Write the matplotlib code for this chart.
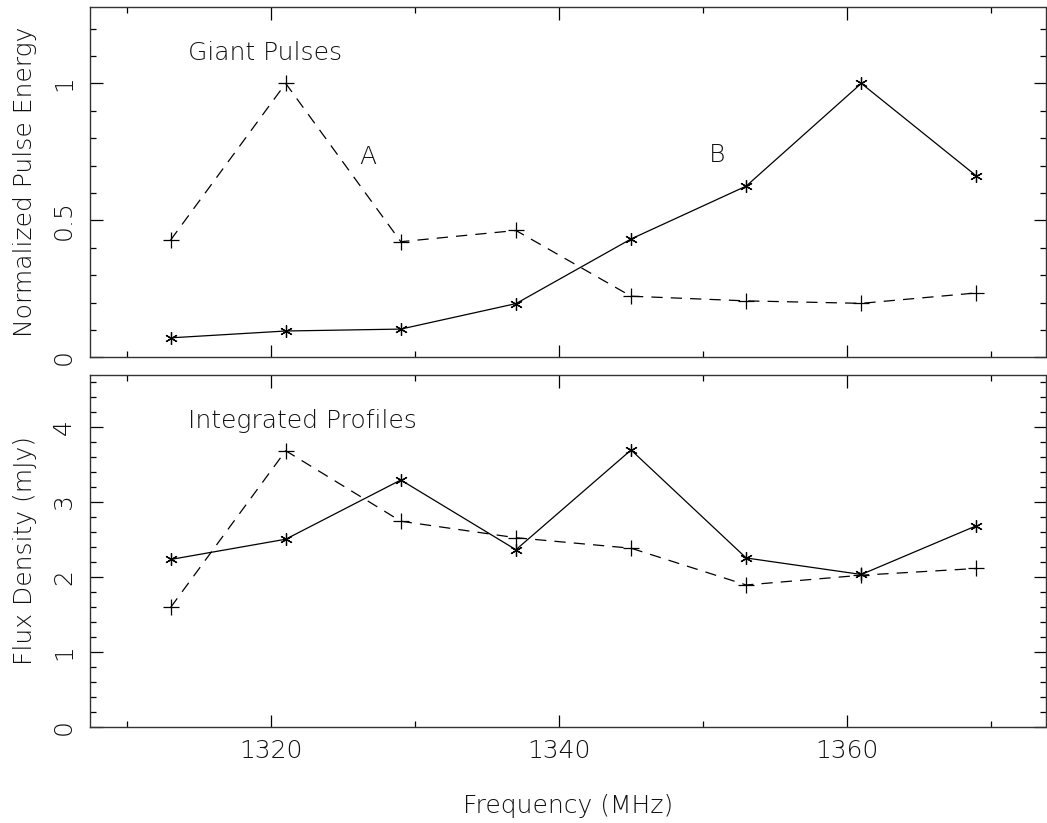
import numpy as np
import matplotlib
matplotlib.use("Agg")
import matplotlib.pyplot as plt
from matplotlib import font_manager
from matplotlib.ticker import MultipleLocator

# Observing frequencies (MHz)
freq = [1313, 1321, 1329, 1337, 1345, 1353, 1361, 1369]

# Normalized giant-pulse energy for the two components
gp_A = [0.428, 1.0, 0.422, 0.463, 0.223, 0.206, 0.197, 0.235]
gp_B = [0.071, 0.096, 0.103, 0.196, 0.432, 0.625, 1.0, 0.662]

# Integrated-profile flux density (mJy)
prof_A = [1.59, 3.68, 2.74, 2.52, 2.38, 1.89, 2.02, 2.11]
prof_B = [2.23, 2.50, 3.29, 2.36, 3.69, 2.25, 2.03, 2.68]

panel_titles = ["Giant Pulses", "Integrated Profiles"]
ylabels = ["Normalized Pulse Energy", "Flux Density (mJy)"]
xlabel = "Frequency (MHz)"


def pick_light_font():
    """Return (family, weight) for a thin-stroked sans face, if one is installed."""
    prefs = ["DejaVu Sans", "Open Sans", "Lato", "Roboto", "Inter", "Noto Sans"]
    entries = font_manager.fontManager.ttflist
    for fam in prefs:
        for f in entries:
            if f.name == fam and f.style == "normal":
                w = f.weight if isinstance(f.weight, int) else 400
                if w <= 300:
                    return fam, w
    return "DejaVu Sans", "normal"


FAMILY, WEIGHT = pick_light_font()
plt.rcParams["font.family"] = [FAMILY, "DejaVu Sans"]
plt.rcParams["font.weight"] = WEIGHT
plt.rcParams["axes.labelweight"] = WEIGHT
FS = 18
TXT = "#111111"

fig = plt.figure(figsize=(10.47, 8.23), dpi=100)
ax1 = fig.add_axes([90 / 1047, 1 - 357.3 / 823, 955.5 / 1047, 350.6 / 823])
ax2 = fig.add_axes([90 / 1047, 1 - 726.7 / 823, 955.5 / 1047, 351.7 / 823],
                   sharex=ax1)

LW = 0.9
DASH = (9, 6.5)
aster = (6, 2, 0)


def draw(ax, ya, yb):
    ax.plot(freq, ya, color="black", lw=LW, linestyle=(0, DASH),
            marker="+", ms=12, mew=LW)
    ax.plot(freq, yb, color="black", lw=LW, linestyle="-",
            marker=aster, ms=9, mew=LW)


draw(ax1, gp_A, gp_B)
draw(ax2, prof_A, prof_B)

ax1.set_xlim(1307.4, 1373.8)
ax1.set_ylim(0, 1.28)
ax2.set_ylim(0, 4.69)

ax1.xaxis.set_major_locator(MultipleLocator(20))
ax1.xaxis.set_minor_locator(MultipleLocator(10))
ax1.yaxis.set_major_locator(MultipleLocator(0.5))
ax1.yaxis.set_minor_locator(MultipleLocator(0.1))
ax2.yaxis.set_major_locator(MultipleLocator(1))
ax2.yaxis.set_minor_locator(MultipleLocator(0.2))


def yfmt(v, _):
    return "%g" % v


for ax in (ax1, ax2):
    for s in ax.spines.values():
        s.set_linewidth(1.0)
        s.set_color("#333333")
    ax.tick_params(which="both", direction="in", top=True, right=True,
                   width=0.9, labelsize=FS, colors="black", labelcolor=TXT)
    ax.tick_params(which="major", length=9)
    ax.tick_params(which="minor", length=4.5)
    ax.tick_params(axis="y", labelrotation=90, pad=10)
    ax.tick_params(axis="x", pad=9)
    ax.yaxis.set_major_formatter(plt.FuncFormatter(yfmt))
    for lab in ax.get_yticklabels():
        lab.set_va("center")

ax1.tick_params(axis="x", labelbottom=False)

lab_kw = dict(fontsize=FS, fontweight=WEIGHT, color=TXT)
ax1.set_ylabel(ylabels[0], labelpad=11, **lab_kw)
ax2.set_ylabel(ylabels[1], labelpad=11, **lab_kw)
ax2.set_xlabel(xlabel, labelpad=22, **lab_kw)

ax1.text(1314.2, 1.112, panel_titles[0], va="center", ha="left", **lab_kw)
ax2.text(1314.2, 4.07, panel_titles[1], va="center", ha="left", **lab_kw)
ax1.text(1326.7, 0.733, "A", va="center", ha="center", **lab_kw)
ax1.text(1351.0, 0.739, "B", va="center", ha="center", **lab_kw)

fig.savefig("out.png", dpi=100)
